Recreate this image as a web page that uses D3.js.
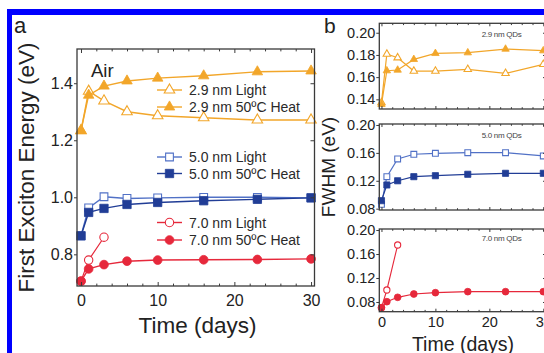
<!DOCTYPE html>
<html><head><meta charset="utf-8">
<script src="https://cdn.jsdelivr.net/npm/d3@7"></script>
<style>
html,body{margin:0;padding:0;background:#fff;}
svg{display:block;font-family:"Liberation Sans",Arial,sans-serif;}
</style></head><body>
<svg id="c" width="544" height="353"></svg>
<script>
// ---------- data ----------
const days = [0, 1, 3, 6, 10, 16, 23, 30];
const days7Light = [0, 1, 3];
const energy29Light = [1.234, 1.372, 1.338, 1.300, 1.286, 1.279, 1.271, 1.271];
const energy29Heat  = [1.234, 1.358, 1.390, 1.408, 1.418, 1.426, 1.440, 1.443];
const energy50Light = [0.865, 0.963, 1.002, 0.996, 0.998, 1.000, 1.000, 0.998];
const energy50Heat  = [0.865, 0.947, 0.961, 0.975, 0.982, 0.988, 0.993, 0.998];
const energy70Light = [0.706, 0.780, 0.860];
const energy70Heat  = [0.706, 0.749, 0.764, 0.776, 0.780, 0.781, 0.782, 0.784];
const fwhm29Light = [0.137, 0.1808, 0.1775, 0.1655, 0.1655, 0.1670, 0.1634, 0.1715];
const fwhm29Heat  = [0.1355, 0.1658, 0.1664, 0.1760, 0.1814, 0.1820, 0.1853, 0.1838];
const fwhm50Light = [0.0863, 0.1259, 0.1513, 0.1580, 0.1594, 0.1603, 0.1603, 0.1556];
const fwhm50Heat  = [0.0915, 0.1140, 0.1200, 0.1259, 0.1273, 0.1293, 0.1307, 0.1307];
const fwhm70Light = [0.0705, 0.1000, 0.1750];
const fwhm70Heat  = [0.0705, 0.0805, 0.0878, 0.0933, 0.0955, 0.0972, 0.0972, 0.0972];
const timeTicks = [0, 10, 20, 30];
const timeMinorTicks = [2, 4, 6, 8, 12, 14, 16, 18, 22, 24, 26, 28];
const energyTicks = [0.8, 1.0, 1.2, 1.4];
const fwhmTicks29 = [0.14, 0.16, 0.18, 0.20];
const fwhmTicks = [0.08, 0.12, 0.16, 0.20];
const seriesNames = ["2.9 nm Light", "2.9 nm 50ºC Heat", "5.0 nm Light", "5.0 nm 50ºC Heat", "7.0 nm Light", "7.0 nm 50ºC Heat"];
const qdLabels = ["2.9 nm QDs", "5.0 nm QDs", "7.0 nm QDs"];

// ---------- style ----------
const C_OR = "#f2a62a", C_BL = "#5171c6", C_BD = "#213d96", C_RD = "#e6283b";
const AX = "#3a3a3a";

const svg = d3.select("#c");
svg.append("rect").attr("width", 544).attr("height", 353).attr("fill", "#fff");
// blue border
svg.append("rect").attr("x", 7).attr("y", 9).attr("width", 537).attr("height", 6).attr("fill", "#0000ff");
svg.append("rect").attr("x", 7).attr("y", 9).attr("width", 5).attr("height", 344).attr("fill", "#0000ff");

function frame(g, x, y, yTicks, yFmt, showX, fs, tickLen, xPad) {
  const [x0, x1] = x.range(), [y0, y1] = y.range();
  const w = x1 - x0, h = y0 - y1;
  const styleAxis = s => { s.select(".domain").remove(); s.selectAll("line").attr("stroke", AX).attr("stroke-width", 1); s.selectAll("text").attr("fill", "#222").style("font-size", fs + "px").attr("font-family", null); };
  // bottom
  g.append("g").attr("transform", `translate(0,${y0})`)
    .call(d3.axisBottom(x).tickValues(timeTicks).tickSizeInner(-tickLen).tickSizeOuter(0).tickPadding(showX ? xPad : 0).tickFormat(showX ? d3.format("d") : ""))
    .call(styleAxis);
  g.append("g").attr("transform", `translate(0,${y0})`)
    .call(d3.axisBottom(x).tickValues(timeMinorTicks).tickSizeInner(-tickLen * 0.6).tickSizeOuter(0).tickFormat(""))
    .call(styleAxis);
  // top
  g.append("g").attr("transform", `translate(0,${y1})`)
    .call(d3.axisTop(x).tickValues(timeTicks).tickSizeInner(-tickLen).tickSizeOuter(0).tickFormat(""))
    .call(styleAxis);
  g.append("g").attr("transform", `translate(0,${y1})`)
    .call(d3.axisTop(x).tickValues(timeMinorTicks).tickSizeInner(-tickLen * 0.6).tickSizeOuter(0).tickFormat(""))
    .call(styleAxis);
  // left
  g.append("g").attr("transform", `translate(${x0},0)`)
    .call(d3.axisLeft(y).tickValues(yTicks).tickSizeInner(3).tickSizeOuter(0).tickPadding(1).tickFormat(d3.format(yFmt)))
    .call(styleAxis);
  // right
  g.append("g").attr("transform", `translate(${x1},0)`)
    .call(d3.axisRight(y).tickValues(yTicks).tickSizeInner(-tickLen).tickSizeOuter(0).tickFormat(""))
    .call(styleAxis);
  g.append("rect").attr("x", x0).attr("y", y1).attr("width", w).attr("height", h)
    .attr("fill", "none").attr("stroke", AX).attr("stroke-width", 1.3);
}

function series(g, x, y, xs, ys, color, shape, size, open, lw) {
  const pts = xs.map((d, i) => [d, ys[i]]);
  g.append("path").datum(pts)
    .attr("d", d3.line().x(d => x(d[0])).y(d => y(d[1])))
    .attr("fill", "none").attr("stroke", color).attr("stroke-width", lw);
  g.selectAll(null).data(pts).enter().append("path")
    .attr("transform", d => `translate(${x(d[0])},${y(d[1])})`)
    .attr("d", d3.symbol().type(shape).size(size))
    .attr("fill", open ? "#fff" : color).attr("stroke", color).attr("stroke-width", open ? 1.1 : 0.8);
}

// ---------- panel a ----------
const xa = d3.scaleLinear().domain([-0.52, 30.45]).range([77, 314.5]);
const ya = d3.scaleLinear().domain([0.689, 1.52]).range([286, 49]);
const ga = svg.append("g");
series(ga, xa, ya, days, energy29Light, C_OR, d3.symbolTriangle, 48, true, 1.4);
series(ga, xa, ya, days, energy29Heat, C_OR, d3.symbolTriangle, 48, false, 1.4);
series(ga, xa, ya, days, energy50Light, C_BL, d3.symbolSquare, 60, true, 1.4);
series(ga, xa, ya, days, energy50Heat, C_BD, d3.symbolSquare, 70, false, 1.4);
series(ga, xa, ya, days7Light, energy70Light, C_RD, d3.symbolCircle, 55, true, 1.2);
series(ga, xa, ya, days, energy70Heat, C_RD, d3.symbolCircle, 60, false, 1.4);
frame(ga, xa, ya, energyTicks, ".1f", true, 16, 4, 9);

// legend
const legRows = [90, 107, 157, 173.5, 222.5, 240];
const legStyle = [
  [C_OR, d3.symbolTriangle, 48, true], [C_OR, d3.symbolTriangle, 48, false],
  [C_BL, d3.symbolSquare, 60, true], [C_BD, d3.symbolSquare, 70, false],
  [C_RD, d3.symbolCircle, 55, true], [C_RD, d3.symbolCircle, 60, false]];
seriesNames.forEach((name, i) => {
  const [col, shp, sz, open] = legStyle[i];
  const yy = legRows[i];
  ga.append("line").attr("x1", 157).attr("x2", 182).attr("y1", yy).attr("y2", yy).attr("stroke", col).attr("stroke-width", 1.4);
  ga.append("path").attr("transform", `translate(169.5,${yy})`).attr("d", d3.symbol().type(shp).size(sz)())
    .attr("fill", open ? "#fff" : col).attr("stroke", col).attr("stroke-width", open ? 1.1 : 0.8);
  ga.append("text").attr("x", 189).attr("y", yy + 5).attr("font-size", 14).attr("fill", "#2a2a2a").text(name);
});
ga.append("text").attr("x", 91).attr("y", 77).attr("font-size", 18.5).attr("fill", "#222").text("Air");
svg.append("text").attr("x", 14).attr("y", 33).attr("font-size", 22).attr("fill", "#222").text("a");
svg.append("text").attr("transform", "translate(33.5,167.5) rotate(-90)").attr("text-anchor", "middle")
  .attr("font-size", 22.5).attr("fill", "#222").text("First Exciton Energy (eV)");
svg.append("text").attr("x", 197.5).attr("y", 333).attr("text-anchor", "middle")
  .attr("font-size", 22.5).attr("fill", "#222").text("Time (days)");

// ---------- panel b ----------
const xb = d3.scaleLinear().domain([-0.4, 30.5]).range([379.3, 546]);
const yb1 = d3.scaleLinear().domain([0.1313, 0.2085]).range([109, 23.3]);
const yb2 = d3.scaleLinear().domain([0.0781, 0.2014]).range([210, 124]);
const yb3 = d3.scaleLinear().domain([0.0638, 0.2017]).range([311.7, 229]);
const gb = svg.append("g");
series(gb, xb, yb1, days, fwhm29Light, C_OR, d3.symbolTriangle, 24, true, 1.2);
series(gb, xb, yb1, days, fwhm29Heat, C_OR, d3.symbolTriangle, 24, false, 1.2);
frame(gb, xb, yb1, fwhmTicks29, ".2f", false, 14.5, 3, 0);
series(gb, xb, yb2, days, fwhm50Light, C_BL, d3.symbolSquare, 34, true, 1.2);
series(gb, xb, yb2, days, fwhm50Heat, C_BD, d3.symbolSquare, 38, false, 1.2);
frame(gb, xb, yb2, fwhmTicks, ".2f", false, 14.5, 3, 0);
series(gb, xb, yb3, days7Light, fwhm70Light, C_RD, d3.symbolCircle, 30, true, 1.1);
series(gb, xb, yb3, days, fwhm70Heat, C_RD, d3.symbolCircle, 36, false, 1.2);
frame(gb, xb, yb3, fwhmTicks, ".2f", true, 14.5, 3, 5);
[[yb1, 37], [yb2, 138], [yb3, 241]].forEach(([yy, ty], i) => {
  gb.append("text").attr("x", 501.5).attr("y", ty).attr("text-anchor", "middle").attr("font-size", 8).attr("letter-spacing", -0.3).attr("fill", "#444").text(qdLabels[i]);
});
svg.append("text").attr("x", 324).attr("y", 33).attr("font-size", 21).attr("fill", "#222").text("b");
svg.append("text").attr("transform", "translate(335,167) rotate(-90)").attr("text-anchor", "middle")
  .attr("font-size", 19).attr("fill", "#222").text("FWHM (eV)");
svg.append("text").attr("x", 463).attr("y", 350.5).attr("text-anchor", "middle")
  .attr("font-size", 19.5).attr("fill", "#222").text("Time (days)");
</script></body></html>
